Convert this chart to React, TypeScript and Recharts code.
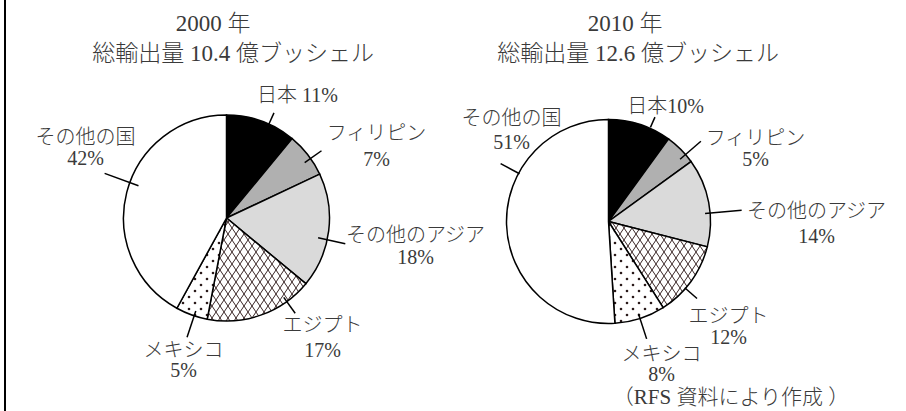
import React from "react";
import { PieChart, Pie, Cell } from "recharts";

// wheat export destinations, share of total (%)
const categories = ["日本", "フィリピン", "その他のアジア", "エジプト", "メキシコ", "その他の国"];
const share2000 = [11, 7, 18, 17, 5, 42];
const share2010 = [10, 5, 14, 12, 8, 51];
const titles2000 = ["2000 年", "総輸出量 10.4 億ブッシェル"];
const titles2010 = ["2010 年", "総輸出量 12.6 億ブッシェル"];
const sourceNote = "（RFS 資料により作成 ）";

const fills = ["#000000", "#b0b0b0", "#dadada", "url(#crosshatch)", "url(#dots)", "#ffffff"];
const FONT = "'Liberation Serif', 'Noto Sans CJK JP', serif";
const TEXT = "#3a3a3a";

// label layout: leader angle shift (deg, clockwise), line radii (x outerRadius),
// text centre offsets from the pie centre [dx, dy line1, dy line2]
type LabelSpot = { da: number; r1: number; r2: number; t: number[] };

const layout2000: LabelSpot[] = [
  { da: 4.5, r1: 0.98, r2: 1.12, t: [71, -123] },
  { da: 2.5, r1: 0.93, r2: 1.13, t: [150, -85, -59] },
  { da: 5, r1: 0.91, r2: 1.18, t: [189, 17, 39] },
  { da: -16, r1: 0.95, r2: 1.14, t: [96, 107, 132] },
  { da: -1.5, r1: 0.95, r2: 1.22, t: [-43, 132, 152] },
  { da: 5.7, r1: 0.91, r2: 1.26, t: [-141, -81, -60] },
];

const layout2010: LabelSpot[] = [
  { da: 6, r1: 1.01, r2: 1.12, t: [57, -116] },
  { da: 4, r1: 0.93, r2: 1.2, t: [147, -84, -63] },
  { da: 6, r1: 0.95, r2: 1.31, t: [208, -11, 14] },
  { da: 5, r1: 0.99, r2: 1.15, t: [120, 94, 115] },
  { da: 0, r1: 0.95, r2: 1.21, t: [53, 132, 152] },
  { da: 30, r1: 0.99, r2: 1.2, t: [-97, -104, -80] },
];

const toRows = (values: number[]) => categories.map((name, i) => ({ name, value: values[i] }));

function makeLabel(spots: LabelSpot[], joiner: string) {
  return (props: any) => {
    const { cx, cy, midAngle, outerRadius, index, name, value } = props;
    const s = spots[index];
    const th = ((90 - midAngle + s.da) * Math.PI) / 180;
    const x1 = cx + outerRadius * s.r1 * Math.sin(th);
    const y1 = cy - outerRadius * s.r1 * Math.cos(th);
    const x2 = cx + outerRadius * s.r2 * Math.sin(th);
    const y2 = cy - outerRadius * s.r2 * Math.cos(th);
    const tx = cx + s.t[0];
    return (
      <g>
        <line x1={x1} y1={y1} x2={x2} y2={y2} stroke="#000" strokeWidth={1.5} />
        {s.t.length === 2 ? (
          <text x={tx} y={cy + s.t[1]} textAnchor="middle" dominantBaseline="central" fontFamily={FONT} fontWeight={300} fontSize={20} fill={TEXT}>
            {name + joiner + value + "%"}
          </text>
        ) : (
          <text textAnchor="middle" dominantBaseline="central" fontFamily={FONT} fontWeight={300} fontSize={20} fill={TEXT}>
            <tspan x={tx} y={cy + s.t[1]}>{name}</tspan>
            <tspan x={tx} y={cy + s.t[2]}>{value + "%"}</tspan>
          </text>
        )}
      </g>
    );
  };
}

export default function App() {
  return (
    <div style={{ position: "absolute", left: 0, top: 0, width: 906, height: 411, background: "#fff" }}>
      <svg width={906} height={411} style={{ position: "absolute", left: 0, top: 0 }}>
        <defs>
          <pattern id="crosshatch" patternUnits="userSpaceOnUse" width={8} height={12}>
            <rect width={8} height={12} fill="#fff" />
            <path d="M0 0 L8 12 M8 0 L0 12" stroke="#3a2626" strokeWidth={1} />
          </pattern>
          <pattern id="dots" patternUnits="userSpaceOnUse" width={12} height={12}>
            <rect width={12} height={12} fill="#fff" />
            <circle cx={3} cy={3} r={1.3} fill="#2a1a1a" />
            <circle cx={9} cy={9} r={1.3} fill="#2a1a1a" />
          </pattern>
        </defs>
        <rect x={4} y={0} width={2} height={411} fill="#000" />
        <g fontFamily={FONT} fontWeight={300} fontSize={23} fill={TEXT} dominantBaseline="central" textAnchor="middle">
          <text x={213} y={23}>{titles2000[0]}</text>
          <text x={233} y={53}>{titles2000[1]}</text>
          <text x={625} y={23}>{titles2010[0]}</text>
          <text x={638} y={53}>{titles2010[1]}</text>
          <text x={731} y={397} fontSize={21}>{sourceNote}</text>
        </g>
      </svg>
      <div style={{ position: "absolute", left: 0, top: 0 }}>
        <PieChart width={906} height={411}>
          <Pie
            data={toRows(share2000)}
            dataKey="value"
            nameKey="name"
            cx={221.5}
            cy={213}
            outerRadius={103}
            startAngle={90}
            endAngle={-270}
            stroke="#000"
            strokeWidth={1.5}
            labelLine={false}
            label={makeLabel(layout2000, " ")}
            isAnimationActive={false}
          >
            {share2000.map((_, i) => (
              <Cell key={i} fill={fills[i]} />
            ))}
          </Pie>
          <Pie
            data={toRows(share2010)}
            dataKey="value"
            nameKey="name"
            cx={603.5}
            cy={216.5}
            outerRadius={102}
            startAngle={90}
            endAngle={-270}
            stroke="#000"
            strokeWidth={1.5}
            labelLine={false}
            label={makeLabel(layout2010, "")}
            isAnimationActive={false}
          >
            {share2010.map((_, i) => (
              <Cell key={i} fill={fills[i]} />
            ))}
          </Pie>
        </PieChart>
      </div>
    </div>
  );
}
